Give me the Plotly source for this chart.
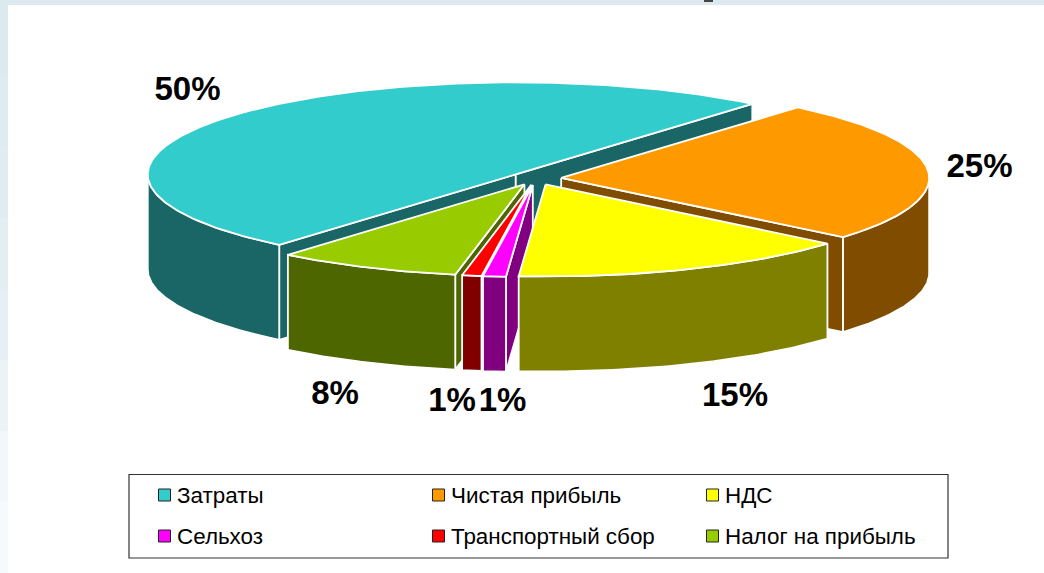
import math
import plotly.graph_objects as go

# data
categories = ["Затраты", "Чистая прибыль", "НДС", "Сельхоз", "Транспортный сбор", "Налог на прибыль"]
values = [50, 25, 15.05, 1, 0.85, 8.1]
labels = ["50%", "25%", "15%", "1%", "1%", "8%"]
top_colors = ["#33CCCC", "#FF9900", "#FFFF00", "#FF00FF", "#FF0000", "#99CC00"]
side_colors = ["#1A6666", "#804D00", "#808000", "#800080", "#800000", "#4D6600"]
label_x = [187.5, 979.5, 735, 452, 502.5, 335]
label_y = [92, 169, 398, 403, 403, 396]
legend_x = [164.5, 438.5, 712.5, 164.5, 438.5, 712.5]
legend_y = [495, 495, 495, 536, 536, 536]

# projection of the pie onto the page
CX, CY = 535.5, 178.5
RX, RY = 368, 92
DEPTH = 95
PULL = 0.07
START = 230.0  # first slice starts here (degrees, going clockwise)
W, H = 1044, 573

fig = go.Figure()

total = sum(values)
angles = []
a = START
for v in values:
    b = a - v / total * 360
    angles.append((a, b))
    a = b


def poly(xs, ys, fill):
    fig.add_trace(go.Scatter(
        x=xs + xs[:1], y=ys + ys[:1], mode="lines", fill="toself", fillcolor=fill,
        line=dict(color="white", width=1.8), hoverinfo="skip", showlegend=False))


def draw_slice(i):
    a0, a1 = angles[i]
    mid = math.radians((a0 + a1) / 2)
    tx = CX + PULL * RX * math.cos(mid)
    ty = CY - PULL * RY * math.sin(mid)
    n = max(3, int(abs(a0 - a1) * 1.5))
    th = [math.radians(a0 + (a1 - a0) * k / n) for k in range(n + 1)]
    ex = [tx + RX * math.cos(t) for t in th]
    ey = [ty - RY * math.sin(t) for t in th]
    # cut walls that face the viewer
    if math.cos(th[0]) < 0:
        poly([tx, ex[0], ex[0], tx], [ty, ey[0], ey[0] + DEPTH, ty + DEPTH], side_colors[i])
    if math.cos(th[-1]) > 0:
        poly([tx, ex[-1], ex[-1], tx], [ty, ey[-1], ey[-1] + DEPTH, ty + DEPTH], side_colors[i])
    # visible outer rim
    rim = [(x, y) for x, y, t in zip(ex, ey, th) if math.sin(t) <= 0.001]
    if len(rim) > 1:
        rx = [p[0] for p in rim]
        ry = [p[1] for p in rim]
        poly(rx + rx[::-1], ry + [y + DEPTH for y in ry[::-1]], side_colors[i])
    # top face
    poly([tx] + ex, [ty] + ey, top_colors[i])


# painter's order, back to front
for i in [0, 1, 5, 4, 3, 2]:
    draw_slice(i)

# percent labels
fig.add_trace(go.Scatter(
    x=label_x, y=label_y, mode="text", text=labels, textposition="middle center",
    textfont=dict(family="Liberation Sans", size=33, color="black"),
    texttemplate="<b>%{text}</b>", hoverinfo="skip", showlegend=False))

# legend entries
fig.add_trace(go.Scatter(
    x=legend_x, y=legend_y, mode="markers",
    marker=dict(symbol="square", size=12, color=top_colors, line=dict(color="#222222", width=1)),
    hoverinfo="skip", showlegend=False))
fig.add_trace(go.Scatter(
    x=[x + 12.5 for x in legend_x], y=[y + 2 for y in legend_y], mode="text", text=categories,
    textposition="middle right",
    textfont=dict(family="Liberation Sans", size=22.4, color="black"),
    hoverinfo="skip", showlegend=False))

shapes = [
    dict(type="rect", x0=0, x1=W, y0=0, y1=5, fillcolor="#DCE9EE", line_width=0, layer="below"),
    dict(type="rect", x0=704, x1=713, y0=0, y1=2, fillcolor="#444444", line_width=0, layer="below"),
    dict(type="rect", x0=129, x1=948, y0=474.5, y1=558, fillcolor="white",
         line=dict(color="#333333", width=1.2), layer="below"),
]
strip = ["#DCE9EE", "#DEEBF0", "#E0ECF1", "#E3EEF3", "#E6EFF5", "#EBF3F7", "#F2F7FB", "#F5FAFD"]
for k, c in enumerate(strip):
    shapes.append(dict(type="rect", x0=0, x1=8, y0=5 + k * 568 / 8, y1=5 + (k + 1) * 568 / 8,
                       fillcolor=c, line_width=0, layer="below"))

fig.update_layout(
    width=W, height=H, margin=dict(l=0, r=0, t=0, b=0),
    paper_bgcolor="white", plot_bgcolor="white", showlegend=False, shapes=shapes,
    xaxis=dict(range=[0, W], visible=False, fixedrange=True),
    yaxis=dict(range=[H, 0], visible=False, fixedrange=True),
)
fig.write_html("out.html", config={"displayModeBar": False},
               post_script="document.body.style.margin='0';document.documentElement.style.overflow='hidden';")
